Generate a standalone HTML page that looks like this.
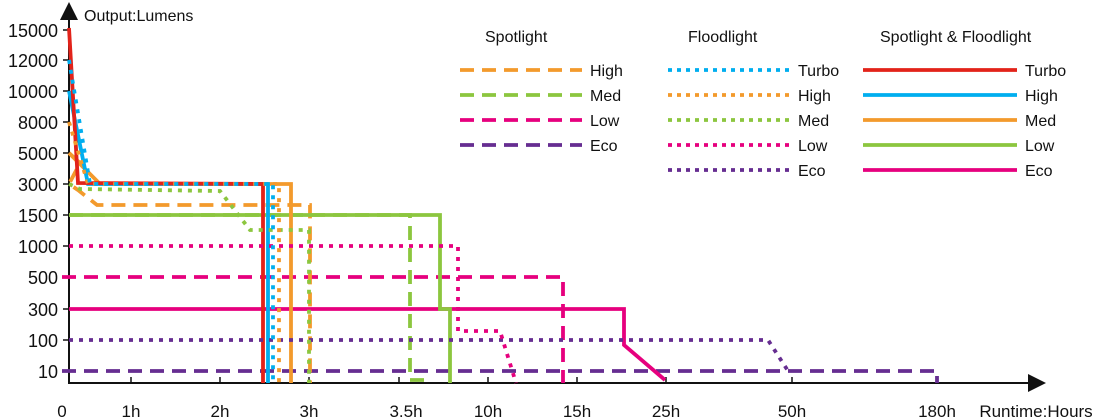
<!DOCTYPE html>
<html><head><style>body{margin:0;background:#fff}svg{display:block}text{font-family:"Liberation Sans",Arial,sans-serif;fill:#111}</style></head>
<body>
<svg width="1100" height="418" viewBox="0 0 1100 418">
<g font-size="18" text-anchor="end">
<text x="58" y="37">15000</text><text x="58" y="67">12000</text><text x="58" y="98">10000</text><text x="58" y="129">8000</text><text x="58" y="160">5000</text><text x="58" y="191">3000</text><text x="58" y="222">1500</text><text x="58" y="253">1000</text><text x="58" y="284">500</text><text x="58" y="316">300</text><text x="58" y="347">100</text><text x="58" y="378">10</text>
</g>
<g stroke="#111" stroke-width="2">
<line x1="69" y1="12" x2="69" y2="384"/><line x1="68" y1="383" x2="1030" y2="383"/>
<g stroke-width="1.5">
<line x1="63" y1="30" x2="69" y2="30"/><line x1="63" y1="60" x2="69" y2="60"/><line x1="63" y1="91" x2="69" y2="91"/><line x1="63" y1="122" x2="69" y2="122"/><line x1="63" y1="153" x2="69" y2="153"/><line x1="63" y1="184" x2="69" y2="184"/><line x1="63" y1="215" x2="69" y2="215"/><line x1="63" y1="246" x2="69" y2="246"/><line x1="63" y1="277" x2="69" y2="277"/><line x1="63" y1="309" x2="69" y2="309"/><line x1="63" y1="340" x2="69" y2="340"/><line x1="63" y1="371" x2="69" y2="371"/>
<line x1="131" y1="377" x2="131" y2="383"/><line x1="220" y1="377" x2="220" y2="383"/><line x1="309" y1="377" x2="309" y2="383"/><line x1="399" y1="377" x2="399" y2="383"/><line x1="488" y1="377" x2="488" y2="383"/><line x1="577" y1="377" x2="577" y2="383"/><line x1="666" y1="377" x2="666" y2="383"/><line x1="792" y1="377" x2="792" y2="383"/><line x1="937" y1="377" x2="937" y2="383"/>
</g></g>
<polygon points="60,20 69,2 78,20" fill="#111"/>
<polygon points="1028,374 1046,383 1028,392" fill="#111"/>
<text x="84" y="21" font-size="16">Output:Lumens</text>
<g font-size="17" text-anchor="middle">
<text x="62" y="417">0</text><text x="131" y="417">1h</text><text x="220" y="417">2h</text><text x="309" y="417">3h</text><text x="406" y="417">3.5h</text><text x="488" y="417">10h</text><text x="577" y="417">15h</text><text x="666" y="417">25h</text><text x="792" y="417">50h</text><text x="937" y="417">180h</text><text x="1036" y="417">Runtime:Hours</text>
</g>
<g fill="none" stroke-width="3.8">
<g stroke-dasharray="14,8">
<polyline stroke="#662d91" points="62,371 937,371 937,383"/>
<polyline stroke="#e6007e" points="62,277 563,277 563,383"/>
<polyline stroke="#8cc63f" points="69,215 410,215 410,380 424,380 424,383"/>
<polyline stroke="#f39a2c" points="69,153 80,163 69,184 78,190 97,205 310,205 310,383"/>
</g>
<polyline stroke="#e6007e" points="69,309 624,309 624,345 665,380"/>
<polyline stroke="#8cc63f" points="69,215 440,215 440,309 450,309 450,383"/>
<polyline stroke="#f39a2c" points="69,153 100,184 291,184 291,383"/>
<polyline stroke="#00aeef" points="69,91 88,184 268,184 268,383"/>
<polyline stroke="#e2231a" points="69,28 78,183 263,184 263,383"/>
<g stroke-dasharray="4,6">
<polyline stroke="#662d91" points="69,340 768,340 790,374"/>
<polyline stroke="#e6007e" points="69,246 458,246 458,331 500,331 516,383"/>
<polyline stroke="#8cc63f" points="69,184 80,189 220,191 250,230 309,230 309,383"/>
<polyline stroke="#f39a2c" points="69,122 88,184 279,184 279,383"/>
<polyline stroke="#00aeef" points="69,60 90,184 273,184 273,383"/>
</g>
</g>
<g font-size="16">
<text x="485" y="42">Spotlight</text><text x="688" y="42">Floodlight</text><text x="880" y="42">Spotlight &amp; Floodlight</text>
<text x="590" y="76">High</text><text x="590" y="101">Med</text><text x="590" y="126">Low</text><text x="590" y="151">Eco</text>
<text x="798" y="76">Turbo</text><text x="798" y="101">High</text><text x="798" y="126">Med</text><text x="798" y="151">Low</text><text x="798" y="176">Eco</text>
<text x="1025" y="76">Turbo</text><text x="1025" y="101">High</text><text x="1025" y="126">Med</text><text x="1025" y="151">Low</text><text x="1025" y="176">Eco</text>
</g>
<g stroke-width="3.8">
<g stroke-dasharray="14,8">
<line x1="460" y1="70" x2="582" y2="70" stroke="#f39a2c"/><line x1="460" y1="95" x2="582" y2="95" stroke="#8cc63f"/><line x1="460" y1="120" x2="582" y2="120" stroke="#e6007e"/><line x1="460" y1="145" x2="582" y2="145" stroke="#662d91"/>
</g>
<g stroke-dasharray="4,5">
<line x1="668" y1="70" x2="790" y2="70" stroke="#00aeef"/><line x1="668" y1="95" x2="790" y2="95" stroke="#f39a2c"/><line x1="668" y1="120" x2="790" y2="120" stroke="#8cc63f"/><line x1="668" y1="145" x2="790" y2="145" stroke="#e6007e"/><line x1="668" y1="170" x2="790" y2="170" stroke="#662d91"/>
</g>
<line x1="863" y1="70" x2="1017" y2="70" stroke="#e2231a"/><line x1="863" y1="95" x2="1017" y2="95" stroke="#00aeef"/><line x1="863" y1="120" x2="1017" y2="120" stroke="#f39a2c"/><line x1="863" y1="145" x2="1017" y2="145" stroke="#8cc63f"/><line x1="863" y1="170" x2="1017" y2="170" stroke="#e6007e"/>
</g>
</svg>
</body></html>
